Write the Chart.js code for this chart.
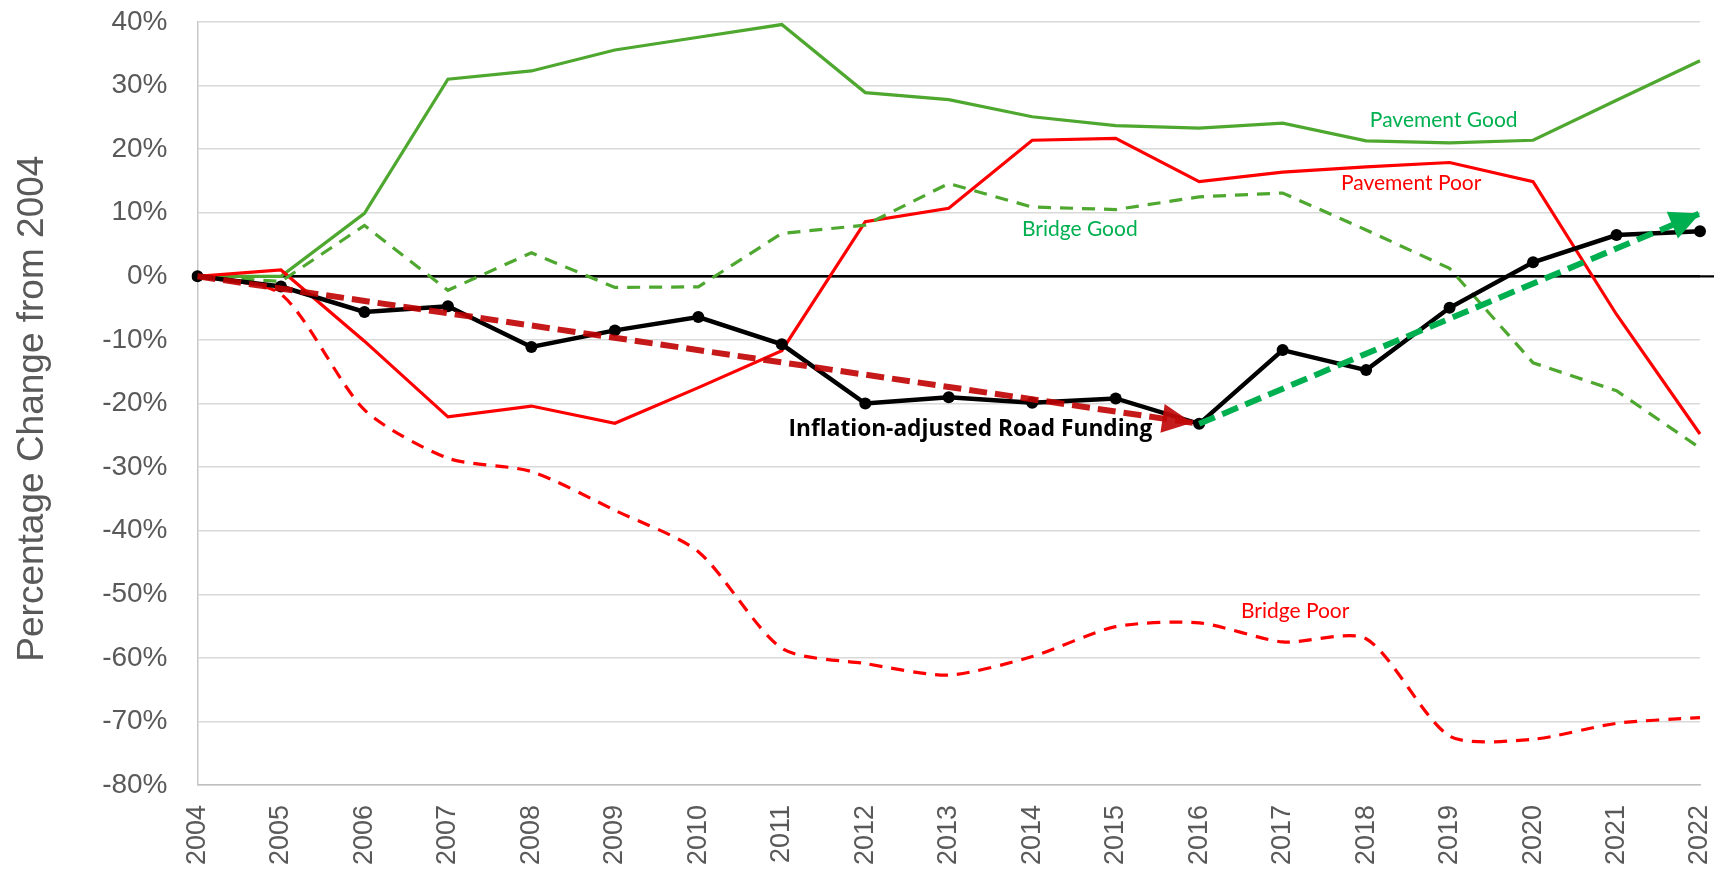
<!DOCTYPE html>
<html lang="en">
<head>
<meta charset="UTF-8">
<title>Road Condition vs Road Funding</title>
<style>
  html, body { margin: 0; padding: 0; background: #fff; }
  #wrap { width: 1714px; height: 872px; }
</style>
<script src="https://cdn.jsdelivr.net/npm/chart.js"></script>
</head>
<body>
<div id="wrap"><canvas id="roadChart" width="1714" height="872"></canvas></div>
<script>
// years on the x axis
const years = ['2004', '2005', '2006', '2007', '2008', '2009', '2010', '2011', '2012', '2013',
               '2014', '2015', '2016', '2017', '2018', '2019', '2020', '2021', '2022'];

// percentage change from 2004
const pavementGood = [0, 0, 9.9, 31.0, 32.3, 35.6, 37.6, 39.6, 28.9, 27.8, 25.1, 23.7, 23.3, 24.1, 21.3, 21.0, 21.4, 27.7, 33.9];
const pavementPoor = [0, 1.0, -10.2, -22.1, -20.4, -23.1, -17.5, -11.7, 8.6, 10.7, 21.4, 21.7, 14.9, 16.4, 17.2, 17.9, 14.9, -6.0, -24.8];
const bridgeGood   = [0, -0.8, 8.0, -2.2, 3.7, -1.75, -1.65, 6.75, 8.05, 14.6, 10.9, 10.5, 12.5, 13.1, 7.3, 1.25, -13.6, -18.0, -27.0];
const bridgePoor   = [0, -2.8, -21.0, -28.6, -30.7, -36.8, -43.3, -58.5, -60.9, -62.7, -59.8, -55.1, -54.5, -57.5, -57.0, -72.3, -72.8, -70.3, -69.4];
const roadFunding  = [0, -1.6, -5.6, -4.7, -11.1, -8.5, -6.4, -10.7, -20.0, -19.0, -19.9, -19.2, -23.2, -11.6, -14.75, -4.95, 2.2, 6.5, 7.1];

// trend arrows (2004 -> 2016 decline, 2016 -> 2022 recovery)
const declineTrend = [0, null, null, null, null, null, null, null, null, null, null, null, -23.2, null, null, null, null, null, null];
const recoveryTrend = [null, null, null, null, null, null, null, null, null, null, null, null, -23.2, null, null, null, null, null, 9.9];

// y axis ticks
const yMin = -80, yMax = 40, yStep = 10;

// text notes placed in data space: [text, year index, value, colour, bold]
const notes = [
  ['Pavement Good', 14.93, 24.6, '#00B050', false],
  ['Pavement Poor', 14.54, 14.6, '#FF0000', false],
  ['Bridge Good', 10.57, 7.35, '#00B050', false],
  ['Bridge Poor', 13.15, -52.7, '#FF0000', false],
  ['Inflation-adjusted Road Funding', 9.26, -24.1, '#000000', true]
];

const extras = {
  id: 'extras',
  beforeDatasetsDraw(chart) {
    // zero line runs out to the edge of the picture
    const ctx = chart.ctx;
    const y0 = chart.scales.y.getPixelForValue(0);
    ctx.save();
    ctx.strokeStyle = '#000';
    ctx.lineWidth = 2.2;
    ctx.beginPath();
    ctx.moveTo(chart.chartArea.left, y0);
    ctx.lineTo(chart.width, y0);
    ctx.stroke();
    ctx.restore();
  },
  afterDatasetsDraw(chart) {
    const ctx = chart.ctx;
    chart.data.datasets.forEach((ds, i) => {
      if (!ds.arrowColor) return;
      const pts = chart.getDatasetMeta(i).data.filter((p, j) => ds.data[j] !== null);
      const a = pts[pts.length - 2], b = pts[pts.length - 1];
      const ang = Math.atan2(b.y - a.y, b.x - a.x);
      const len = 30, half = 14.5, inset = ds.arrowInset || 0;
      const tx = b.x - inset * Math.cos(ang), ty = b.y - inset * Math.sin(ang);
      const bx = tx - len * Math.cos(ang), by = ty - len * Math.sin(ang);
      ctx.save();
      ctx.fillStyle = ds.arrowColor;
      ctx.beginPath();
      ctx.moveTo(tx, ty);
      ctx.lineTo(bx + half * Math.sin(ang), by - half * Math.cos(ang));
      ctx.lineTo(bx - half * Math.sin(ang), by + half * Math.cos(ang));
      ctx.closePath();
      ctx.fill();
      ctx.restore();
    });

    const xs = chart.scales.x, ys = chart.scales.y;
    ctx.save();
    ctx.textAlign = 'center';
    ctx.textBaseline = 'middle';
    notes.forEach(n => {
      ctx.font = n[4] ? 'bold 22.7px "Open Sans"' : '21px Lato';
      ctx.fillStyle = n[3];
      ctx.fillText(n[0], xs.getPixelForValue(n[1]), ys.getPixelForValue(n[2]));
    });
    ctx.restore();
  }
};

const tickFont = { family: 'Liberation Sans', size: 27 };

new Chart(document.getElementById('roadChart'), {
  type: 'line',
  data: {
    labels: years,
    datasets: [
      { label: 'Pavement Good', data: pavementGood, borderColor: '#4EA72E', borderWidth: 3.2, order: 6 },
      { label: 'Pavement Poor', data: pavementPoor, borderColor: '#FF0000', borderWidth: 3.2, order: 5 },
      { label: 'Bridge Good', data: bridgeGood, borderColor: '#4EA72E', borderWidth: 3.2, borderDash: [13, 9], order: 4 },
      { label: 'Bridge Poor', data: bridgePoor, borderColor: '#FF0000', borderWidth: 3.2, borderDash: [13, 9], tension: 0.25, order: 3 },
      { label: 'Inflation-adjusted Road Funding', data: roadFunding, borderColor: '#000000', borderWidth: 4.5,
        pointRadius: 6, pointBackgroundColor: '#000000', pointBorderWidth: 0, order: 2 },
      { label: 'Decline', data: declineTrend, borderColor: 'rgba(192,0,0,0.9)', borderWidth: 6, borderDash: [18, 8],
        spanGaps: true, arrowColor: 'rgba(192,10,10,0.92)', arrowInset: 7, order: 1 },
      { label: 'Recovery', data: recoveryTrend, borderColor: '#00B050', borderWidth: 6, borderDash: [17, 8],
        spanGaps: true, arrowColor: '#00B050', order: 0 }
    ]
  },
  options: {
    responsive: false,
    animation: false,
    layout: { padding: { top: 22, right: 14, bottom: 0, left: 0 } },
    elements: { line: { tension: 0 }, point: { radius: 0 } },
    plugins: { legend: { display: false }, tooltip: { enabled: false } },
    scales: {
      x: {
        grid: { display: false, drawTicks: false },
        border: { display: true, color: '#bfbfbf', width: 1.5 },
        ticks: { autoSkip: false, minRotation: 90, maxRotation: 90, padding: 20, color: '#595959', font: tickFont },
        afterFit(s) {
          s.height = 87;
          s.paddingLeft = 0;
          s.paddingRight = 0;
        }
      },
      y: {
        min: yMin,
        max: yMax,
        grid: {
          drawTicks: false,
          color: c => c.tick.value === 0 ? '#000000' : '#d9d9d9',
          lineWidth: c => c.tick.value === 0 ? 2.2 : 1.4
        },
        border: { color: '#c8c8c8', width: 1.5 },
        ticks: { stepSize: yStep, padding: 30, color: '#595959', font: { family: 'Liberation Sans', size: 28 }, callback: v => v + '%' },
        title: {
          display: true,
          text: 'Percentage Change from 2004 ',
          color: '#595959',
          font: { family: 'Liberation Sans', size: 37 },
          padding: { top: 11, bottom: 0 }
        },
        afterFit(s) {
          s.width = 197.5;
          s.paddingTop = 0;
          s.paddingBottom = 0;
        }
      }
    }
  },
  plugins: [extras]
});
</script>
</body>
</html>
